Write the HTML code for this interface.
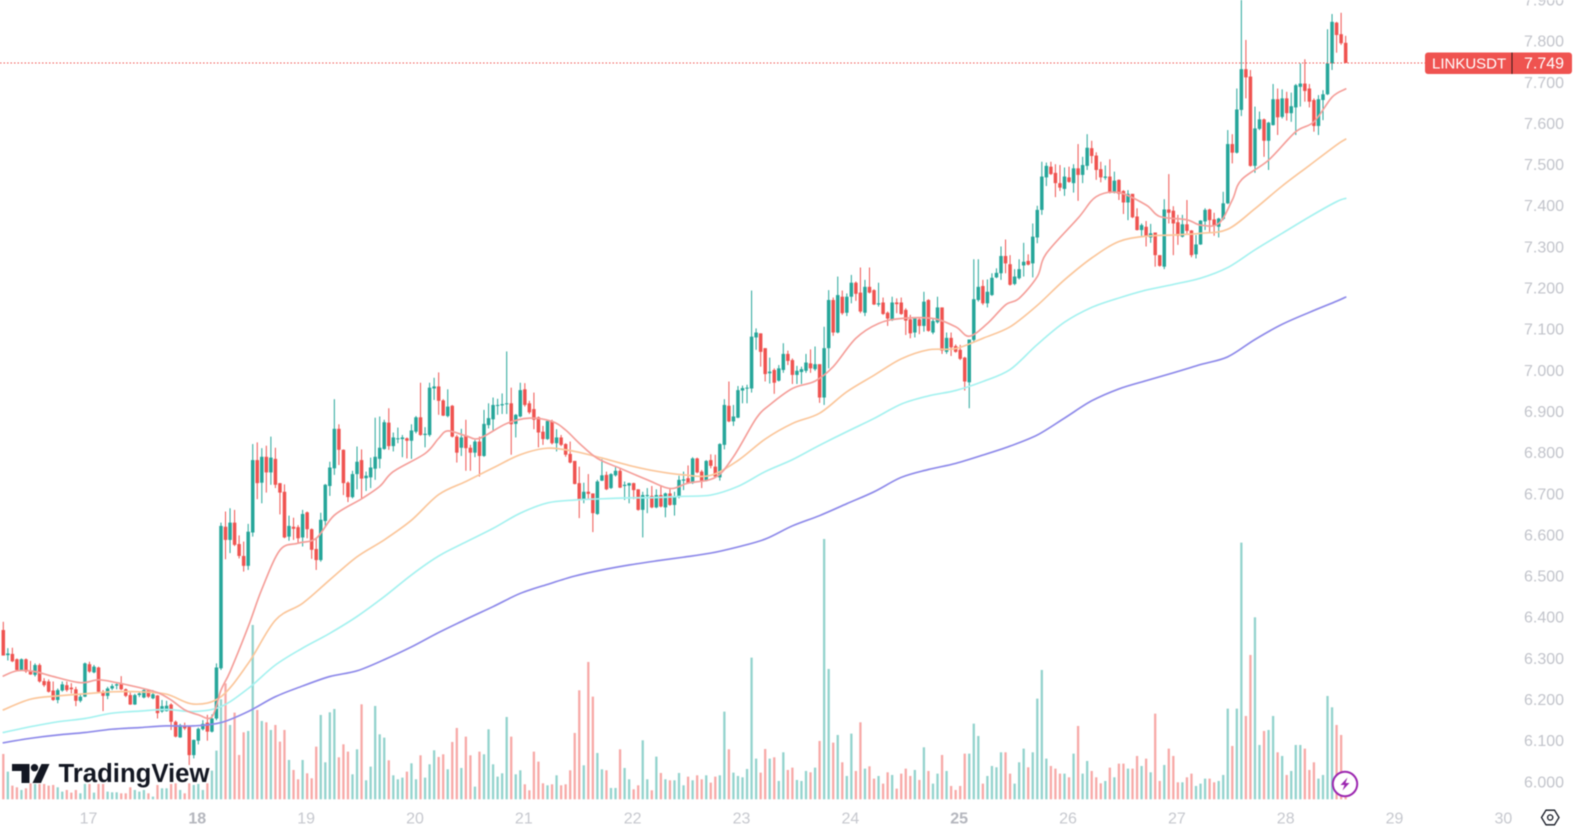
<!DOCTYPE html>
<html lang="en">
<head>
<meta charset="utf-8">
<title>LINKUSDT chart</title>
<style>
html,body{margin:0;padding:0;background:#fff;width:1582px;height:833px;overflow:hidden}
svg{display:block;filter:blur(.45px)}
text{font-family:"Liberation Sans",sans-serif}
</style>
</head>
<body>
<svg id="chart" xmlns="http://www.w3.org/2000/svg" width="1582" height="833" viewBox="0 0 1582 833">
  <rect x="0" y="0" width="1582" height="833" fill="#ffffff"/>
  <g id="volumes"></g>
  <g id="candles"></g>
  <g id="mas"></g>
  <g id="ylabels"></g>
  <g id="xlabels"></g>
  <line id="lastLine" x1="0" x2="1425" stroke="#ef5350" stroke-width="1" stroke-dasharray="1.5 2"/>
  <g id="lastTag">
    <rect id="tagBg" x="1425" width="147" height="21.5" rx="3" fill="#ef5350"/>
    <line id="tagDiv" x1="1512" x2="1512" stroke="#3a1a1a" stroke-width="1"/>
    <text id="tagSym" x="1432" font-size="15" fill="#fff">LINKUSDT</text>
    <text id="tagVal" x="1524" font-size="16" fill="#fff"></text>
  </g>
  <g>
    <path d="M12 764H29.5V783H21.5V771H12Z" fill="#131722"/>
    <circle cx="34.5" cy="767.7" r="3.7" fill="#131722"/>
    <path d="M41.5 764H49.5L41 783H32.5Z" fill="#131722"/>
    <text x="58.5" y="782" font-size="25.5" font-weight="bold" fill="#131722" textLength="151" lengthAdjust="spacingAndGlyphs">TradingView</text>
  </g>
  <g>
    <circle cx="1345" cy="784" r="12.2" fill="#fff" stroke="#9c27b0" stroke-width="2"/>
    <path d="M1347.5 777.5L1340.5 785H1344.5L1342.5 790.5L1349.5 783H1345.5Z" fill="#9c27b0"/>
  </g>
  <g>
    <path d="M1541.5 817.5L1546 810.2H1554.5L1559 817.5L1554.5 824.8H1546Z" fill="none" stroke="#131722" stroke-width="1.3"/>
    <circle cx="1550.2" cy="817.5" r="2.6" fill="none" stroke="#131722" stroke-width="1.3"/>
  </g>
</svg>
<script>
const opens=[6.371,6.310,6.313,6.300,6.274,6.300,6.270,6.262,6.286,6.247,
6.246,6.224,6.201,6.224,6.237,6.231,6.227,6.199,6.209,6.288,
6.268,6.280,6.221,6.211,6.229,6.236,6.242,6.227,6.213,6.190,
6.213,6.207,6.224,6.205,6.212,6.173,6.174,6.190,6.148,6.110,
6.139,6.136,6.067,6.102,6.130,6.146,6.124,6.156,6.278,6.622,
6.590,6.632,6.580,6.551,6.527,6.608,6.784,6.729,6.792,6.754,
6.787,6.728,6.707,6.598,6.622,6.621,6.596,6.657,6.616,6.568,
6.541,6.636,6.721,6.764,6.860,6.809,6.729,6.694,6.750,6.784,
6.740,6.742,6.763,6.787,6.811,6.875,6.818,6.835,6.835,6.837,
6.831,6.853,6.888,6.845,6.845,6.958,6.963,6.929,6.891,6.916,
6.841,6.814,6.844,6.814,6.802,6.829,6.794,6.869,6.883,6.916,
6.917,6.920,6.922,6.872,6.890,6.956,6.922,6.908,6.888,6.853,
6.835,6.879,6.825,6.839,6.823,6.799,6.782,6.728,6.687,6.707,
6.703,6.653,6.734,6.748,6.716,6.747,6.758,6.721,6.722,6.728,
6.713,6.663,6.698,6.697,6.669,6.699,6.669,6.703,6.675,6.694,
6.734,6.740,6.728,6.788,6.756,6.733,6.784,6.768,6.742,6.821,
6.916,6.878,6.887,6.953,6.958,6.958,7.082,7.092,7.056,6.995,
7.003,6.977,7.003,7.042,7.027,6.991,6.998,7.001,7.019,7.005,
7.017,6.936,7.056,7.173,7.094,7.181,7.142,7.181,7.215,7.191,
7.142,7.205,7.197,7.162,7.167,7.142,7.124,7.167,7.167,7.149,
7.126,7.094,7.126,7.110,7.173,7.094,7.119,7.155,7.047,7.081,
7.061,7.052,7.033,6.973,7.076,7.173,7.207,7.165,7.185,7.228,
7.238,7.280,7.260,7.212,7.226,7.257,7.268,7.262,7.325,7.392,
7.471,7.497,7.482,7.457,7.443,7.471,7.457,7.493,7.477,7.499,
7.542,7.524,7.491,7.470,7.473,7.434,7.465,7.438,7.410,7.431,
7.376,7.343,7.351,7.325,7.337,7.282,7.254,7.393,7.390,7.362,
7.327,7.357,7.342,7.284,7.308,7.364,7.393,7.369,7.351,7.370,
7.408,7.552,7.531,7.635,7.734,7.716,7.499,7.589,7.612,7.560,
7.598,7.661,7.618,7.663,7.627,7.641,7.691,7.699,7.687,7.659,
7.596,7.659,7.673,7.748,7.847,7.819,7.798];
const highs=[6.391,6.327,6.328,6.302,6.302,6.302,6.296,6.290,6.290,6.254,
6.251,6.246,6.229,6.246,6.246,6.242,6.233,6.217,6.292,6.294,
6.286,6.282,6.225,6.233,6.240,6.243,6.259,6.229,6.219,6.216,
6.221,6.228,6.227,6.225,6.213,6.201,6.199,6.193,6.151,6.143,
6.146,6.138,6.105,6.134,6.152,6.165,6.166,6.290,6.632,6.659,
6.667,6.663,6.601,6.586,6.629,6.823,6.827,6.813,6.819,6.841,
6.814,6.728,6.725,6.649,6.644,6.626,6.663,6.659,6.618,6.594,
6.656,6.726,6.780,6.932,6.871,6.810,6.732,6.758,6.817,6.810,
6.756,6.790,6.887,6.890,6.882,6.910,6.851,6.863,6.845,6.839,
6.871,6.891,6.972,6.864,6.972,6.984,6.997,6.932,6.956,6.918,
6.845,6.860,6.882,6.821,6.833,6.841,6.906,6.922,6.936,6.933,
6.946,7.048,6.960,6.896,6.972,6.971,6.928,6.948,6.890,6.867,
6.882,6.882,6.859,6.845,6.825,6.829,6.782,6.768,6.729,6.750,
6.703,6.736,6.786,6.756,6.752,6.768,6.764,6.732,6.729,6.729,
6.713,6.707,6.716,6.721,6.713,6.721,6.705,6.714,6.707,6.746,
6.756,6.771,6.791,6.790,6.760,6.784,6.798,6.797,6.825,6.932,
6.975,6.918,6.964,6.965,6.967,7.196,7.104,7.092,7.056,7.033,
7.007,7.015,7.068,7.050,7.031,7.013,7.011,7.042,7.053,7.060,
7.017,7.108,7.197,7.179,7.230,7.196,7.189,7.234,7.218,7.252,
7.222,7.252,7.199,7.215,7.179,7.145,7.181,7.177,7.179,7.153,
7.137,7.130,7.128,7.193,7.175,7.128,7.181,7.155,7.094,7.094,
7.065,7.064,7.035,7.077,7.272,7.272,7.222,7.223,7.238,7.250,
7.303,7.320,7.282,7.248,7.272,7.312,7.284,7.359,7.402,7.509,
7.507,7.509,7.503,7.501,7.495,7.497,7.503,7.552,7.521,7.576,
7.560,7.532,7.509,7.500,7.515,7.485,7.466,7.440,7.440,7.431,
7.396,7.359,7.365,7.358,7.337,7.282,7.418,7.479,7.401,7.380,
7.380,7.416,7.343,7.331,7.367,7.396,7.395,7.385,7.373,7.436,
7.586,7.576,7.687,7.915,7.805,7.732,7.643,7.631,7.614,7.606,
7.698,7.687,7.685,7.679,7.677,7.698,7.748,7.758,7.698,7.663,
7.671,7.683,7.831,7.868,7.849,7.871,7.815];
const lows=[6.309,6.297,6.293,6.272,6.272,6.267,6.262,6.258,6.243,6.233,
6.219,6.199,6.193,6.221,6.221,6.217,6.186,6.195,6.208,6.267,
6.266,6.219,6.174,6.203,6.225,6.227,6.225,6.208,6.189,6.189,
6.208,6.205,6.206,6.203,6.156,6.170,6.173,6.128,6.110,6.109,
6.128,6.043,6.059,6.093,6.127,6.102,6.122,6.152,6.274,6.543,
6.558,6.575,6.545,6.513,6.517,6.598,6.689,6.679,6.705,6.724,
6.716,6.652,6.594,6.588,6.590,6.582,6.574,6.594,6.544,6.517,
6.537,6.621,6.697,6.748,6.772,6.699,6.682,6.691,6.713,6.689,
6.709,6.716,6.736,6.764,6.809,6.809,6.805,6.825,6.791,6.788,
6.787,6.849,6.843,6.815,6.841,6.930,6.894,6.891,6.888,6.839,
6.778,6.794,6.758,6.758,6.791,6.744,6.792,6.861,6.855,6.894,
6.896,6.896,6.797,6.839,6.888,6.914,6.896,6.859,6.815,6.821,
6.833,6.822,6.805,6.818,6.792,6.776,6.725,6.643,6.679,6.687,
6.609,6.651,6.733,6.711,6.714,6.744,6.716,6.687,6.679,6.689,
6.661,6.596,6.655,6.667,6.667,6.669,6.645,6.673,6.649,6.691,
6.711,6.726,6.726,6.752,6.716,6.732,6.764,6.742,6.734,6.810,
6.876,6.867,6.886,6.922,6.922,6.948,7.052,7.011,6.975,6.970,
6.945,6.975,6.996,7.015,6.969,6.969,6.969,6.996,6.996,7.001,
6.923,6.918,7.007,7.086,7.092,7.137,7.134,7.165,7.171,7.141,
7.134,7.189,7.161,7.157,7.137,7.110,7.122,7.141,7.137,7.088,
7.080,7.082,7.090,7.096,7.096,7.090,7.116,7.042,7.042,7.037,
7.045,7.027,6.953,6.910,7.069,7.169,7.161,7.155,7.183,7.226,
7.222,7.238,7.208,7.209,7.223,7.230,7.257,7.228,7.311,7.380,
7.450,7.477,7.423,7.438,7.426,7.458,7.434,7.414,7.457,7.489,
7.505,7.465,7.459,7.465,7.432,7.432,7.416,7.382,7.367,7.372,
7.342,7.327,7.303,7.312,7.254,7.254,7.248,7.359,7.282,7.307,
7.325,7.335,7.277,7.274,7.307,7.343,7.335,7.329,7.325,7.367,
7.406,7.505,7.529,7.620,7.663,7.497,7.482,7.586,7.521,7.489,
7.597,7.574,7.614,7.609,7.606,7.574,7.643,7.655,7.641,7.582,
7.574,7.610,7.671,7.732,7.774,7.793,7.749];
const closes=[6.309,6.314,6.295,6.274,6.300,6.270,6.263,6.286,6.246,6.237,
6.221,6.201,6.225,6.239,6.225,6.227,6.199,6.209,6.290,6.270,
6.282,6.221,6.211,6.229,6.235,6.239,6.227,6.211,6.190,6.213,
6.217,6.225,6.209,6.215,6.169,6.186,6.187,6.148,6.112,6.140,
6.132,6.067,6.104,6.131,6.143,6.124,6.156,6.280,6.624,6.590,
6.632,6.578,6.551,6.527,6.610,6.784,6.728,6.792,6.754,6.790,
6.724,6.705,6.596,6.624,6.617,6.594,6.653,6.616,6.566,6.541,
6.639,6.724,6.766,6.860,6.809,6.728,6.694,6.750,6.780,6.739,
6.746,6.766,6.792,6.814,6.876,6.818,6.839,6.837,6.839,6.831,
6.856,6.888,6.845,6.848,6.960,6.963,6.928,6.892,6.914,6.841,
6.802,6.839,6.813,6.802,6.829,6.794,6.872,6.886,6.918,6.918,
6.920,6.922,6.871,6.894,6.954,6.918,6.900,6.882,6.851,6.835,
6.879,6.825,6.839,6.821,6.797,6.778,6.726,6.687,6.707,6.702,
6.655,6.732,6.747,6.713,6.750,6.758,6.717,6.724,6.728,6.711,
6.663,6.699,6.699,6.669,6.699,6.671,6.703,6.675,6.695,6.736,
6.737,6.728,6.788,6.754,6.732,6.782,6.770,6.744,6.823,6.918,
6.878,6.890,6.954,6.959,6.960,7.084,7.094,7.047,6.993,6.999,
6.972,7.007,7.042,7.025,6.991,7.001,7.005,7.021,7.007,7.017,
6.936,7.056,7.173,7.094,7.185,7.141,7.181,7.215,7.188,7.145,
7.205,7.191,7.162,7.165,7.139,7.128,7.167,7.163,7.139,7.123,
7.092,7.128,7.110,7.169,7.098,7.122,7.155,7.050,7.081,7.058,
7.047,7.030,6.975,7.077,7.175,7.205,7.165,7.193,7.227,7.239,
7.280,7.262,7.210,7.230,7.248,7.266,7.259,7.327,7.392,7.473,
7.499,7.479,7.457,7.446,7.473,7.460,7.493,7.477,7.501,7.543,
7.523,7.489,7.471,7.473,7.434,7.463,7.431,7.410,7.431,7.374,
7.343,7.355,7.327,7.335,7.282,7.256,7.393,7.385,7.359,7.329,
7.357,7.341,7.282,7.308,7.366,7.392,7.367,7.355,7.371,7.408,
7.552,7.531,7.636,7.734,7.714,7.499,7.590,7.612,7.560,7.604,
7.661,7.617,7.663,7.627,7.644,7.695,7.699,7.681,7.655,7.596,
7.661,7.673,7.748,7.849,7.817,7.797,7.749];
const volumes=[136,83,41,36,28,33,48,46,46,46,
41,43,36,23,28,20,28,18,46,46,
20,46,46,23,21,21,18,18,36,28,
23,28,18,8,43,33,33,46,48,28,
18,48,43,46,28,48,86,146,300,348,
223,260,133,201,205,523,268,235,231,208,
223,173,208,118,88,60,118,78,63,158,
253,111,261,271,126,165,143,75,150,285,
57,98,280,195,185,117,72,60,65,83,
108,60,132,65,105,147,127,135,90,172,
214,94,188,132,38,143,135,210,105,68,
78,247,188,75,87,45,27,143,113,48,
42,45,72,42,45,87,199,327,102,412,
308,139,90,87,34,34,150,94,60,30,
42,177,60,27,128,79,60,57,57,79,
42,68,57,72,60,72,50,68,72,263,
150,80,70,66,91,425,122,80,151,122,
126,55,141,88,95,58,55,85,81,95,
175,781,391,170,193,111,70,197,85,231,
92,99,62,70,47,81,73,32,77,92,
70,88,58,156,85,47,77,133,85,40,
28,40,137,137,227,190,47,70,100,96,
141,141,77,47,111,152,96,141,302,388,
122,100,92,77,77,66,137,220,77,115,
85,66,48,55,95,66,107,107,92,92,
130,100,122,81,257,55,103,152,130,51,
51,66,77,40,47,62,62,51,55,73,
272,160,272,770,250,433,546,163,205,208,
250,141,130,73,85,163,163,152,88,111,
62,73,310,276,223,193,45];
const maIndex=[0,6,12,18,24,30,36,42,48,54,60,66,72,78,84,90,96,102,108,114,120,126,132,138,144,150,156,162,168,174,180,186,192,198,204,210,216,222,228,234,240,246,252,258,264,270,276,282,288,294,296];
const maPurple=[6.097,6.108,6.116,6.122,6.130,6.134,6.138,6.138,6.146,6.173,6.209,6.235,6.258,6.272,6.299,6.330,6.365,6.397,6.428,6.460,6.482,6.502,6.517,6.529,6.539,6.548,6.558,6.573,6.592,6.624,6.649,6.678,6.707,6.742,6.761,6.776,6.796,6.818,6.845,6.886,6.928,6.957,6.977,6.996,7.016,7.035,7.077,7.114,7.143,7.170,7.180];
const maCyan=[6.122,6.136,6.148,6.156,6.169,6.174,6.178,6.173,6.185,6.229,6.286,6.327,6.363,6.404,6.452,6.505,6.551,6.585,6.618,6.655,6.680,6.687,6.690,6.692,6.693,6.696,6.699,6.720,6.756,6.785,6.820,6.853,6.885,6.920,6.940,6.953,6.975,7.004,7.065,7.119,7.155,7.178,7.197,7.211,7.226,7.252,7.295,7.335,7.375,7.412,7.420];
const maOrange=[6.177,6.203,6.211,6.216,6.221,6.221,6.215,6.191,6.209,6.290,6.395,6.436,6.493,6.549,6.590,6.638,6.700,6.732,6.765,6.797,6.813,6.805,6.789,6.771,6.757,6.748,6.747,6.783,6.835,6.873,6.898,6.950,6.990,7.030,7.052,7.055,7.080,7.108,7.160,7.222,7.275,7.315,7.328,7.331,7.335,7.345,7.395,7.450,7.500,7.550,7.564];
const maRedIndex=[0,3,7,11,17,21,25,30,34,37,40,43,46,48,50,54,57,61,65,69,73,79,83,86,93,96,98,102,105,111,116,121,124,127,131,136,142,147,151,157,161,166,169,174,179,183,188,193,198,205,210,213,217,221,224,228,230,237,241,246,252,255,261,264,268,271,273,279,285,289,293,296];
const maRed=[6.259,6.272,6.270,6.258,6.243,6.250,6.243,6.231,6.219,6.201,6.177,6.165,6.160,6.225,6.270,6.379,6.470,6.565,6.582,6.594,6.650,6.690,6.720,6.756,6.800,6.837,6.855,6.843,6.837,6.873,6.886,6.878,6.857,6.825,6.788,6.764,6.736,6.715,6.728,6.742,6.792,6.885,6.918,6.958,6.976,7.011,7.080,7.116,7.128,7.128,7.108,7.085,7.116,7.161,7.177,7.230,7.286,7.372,7.424,7.434,7.404,7.376,7.368,7.355,7.359,7.416,7.465,7.513,7.582,7.606,7.666,7.686];
const priceTicks=[7.9,7.8,7.7,7.6,7.5,7.4,7.3,7.2,7.1,7.0,6.9,6.8,6.7,6.6,6.5,6.4,6.3,6.2,6.1,6.0];
const dayLabels=[17,18,19,20,21,22,23,24,25,26,27,28,29,30];
const boldDays=[18,25];

const SVGNS='http://www.w3.org/2000/svg';
function xAxis(i){return 3.3+4.535*i;}
function yAxis(p){return 42+(7.8-p)*411.5;}
function volAxis(v){return 799.3-v/3;}
function make(tag,parent){const el=document.createElementNS(SVGNS,tag);parent.appendChild(el);return el;}

const UP='#26a69a',DOWN='#ef5350',UPV='#93d3cd',DOWNV='#f7a9a7';
const volG=document.getElementById('volumes');
const canG=document.getElementById('candles');
closes.forEach(function(c,i){
  const up=c>=opens[i];
  const bar=make('rect',volG);
  
  
  bar.setAttribute('x',xAxis(i)-1.15);
  bar.setAttribute('width',2.3);
  bar.setAttribute('y',volAxis(volumes[i]));
  bar.setAttribute('height',volAxis(0)-volAxis(volumes[i]));
  bar.setAttribute('fill',up?UPV:DOWNV);

  const g=make('g',canG);
  
  
  const wick=make('line',g);
  
  
  wick.setAttribute('x1',xAxis(i));
  wick.setAttribute('x2',xAxis(i));
  wick.setAttribute('y1',yAxis(highs[i]));
  wick.setAttribute('y2',yAxis(lows[i]));
  wick.setAttribute('stroke',up?UP:DOWN);
  wick.setAttribute('stroke-width',1);
  const body=make('rect',g);
  
  
  const top=yAxis(Math.max(opens[i],c));
  const bot=yAxis(Math.min(opens[i],c));
  body.setAttribute('x',xAxis(i)-1.75);
  body.setAttribute('width',3.5);
  body.setAttribute('y',top);
  body.setAttribute('height',Math.max(1,bot-top));
  body.setAttribute('fill',up?UP:DOWN);
});

const maG=document.getElementById('mas');
function smoothPath(idx,vals){
  const pts=idx.map(function(k,j){return [xAxis(k),yAxis(vals[j])];});
  let d='M'+pts[0][0].toFixed(1)+' '+pts[0][1].toFixed(1);
  for(let j=0;j<pts.length-1;j++){
    const p0=pts[Math.max(0,j-1)],p1=pts[j],p2=pts[j+1],p3=pts[Math.min(pts.length-1,j+2)];
    const c1x=p1[0]+(p2[0]-p0[0])/6,c1y=p1[1]+(p2[1]-p0[1])/6;
    const c2x=p2[0]-(p3[0]-p1[0])/6,c2y=p2[1]-(p3[1]-p1[1])/6;
    d+='C'+c1x.toFixed(1)+' '+c1y.toFixed(1)+' '+c2x.toFixed(1)+' '+c2y.toFixed(1)+' '+p2[0].toFixed(1)+' '+p2[1].toFixed(1);
  }
  return d;
}
function drawMA(name,idx,vals,color){
  const pl=make('path',maG);
  
  
  pl.setAttribute('d',smoothPath(idx,vals));
  pl.setAttribute('fill','none');
  pl.setAttribute('stroke',color);
  pl.setAttribute('stroke-width',1.7);
  pl.setAttribute('stroke-linejoin','round');
  pl.setAttribute('stroke-linecap','round');
}
drawMA('ma-long-purple',maIndex,maPurple,'#8f8bea');
drawMA('ma-slow-cyan',maIndex,maCyan,'#a6f2f0');
drawMA('ma-mid-orange',maIndex,maOrange,'#fbc79c');
drawMA('ma-fast-red',maRedIndex,maRed,'#f5a09b');

const yG=document.getElementById('ylabels');
priceTicks.forEach(function(p){
  const t=make('text',yG);
  
  
  t.setAttribute('x',1544);
  t.setAttribute('y',yAxis(p)+4.6);
  t.setAttribute('text-anchor','middle');
  t.setAttribute('font-size',16);
  t.setAttribute('fill','#c2c4cb');
  t.textContent=p.toFixed(3);
});

const xG=document.getElementById('xlabels');
dayLabels.forEach(function(d,k){
  const t=make('text',xG);
  
  
  t.setAttribute('x',xAxis(19+24*k)-1);
  t.setAttribute('y',823.5);
  t.setAttribute('text-anchor','middle');
  t.setAttribute('font-size',16);
  const bold=boldDays.indexOf(d)>=0;
  t.setAttribute('font-weight',bold?'bold':'normal');
  t.setAttribute('fill',bold?'#b4b6bd':'#c6c8ce');
  t.textContent=d;
});

const last=closes[closes.length-1];
const ly=yAxis(last);
const line=document.getElementById('lastLine');
line.setAttribute('y1',ly);
line.setAttribute('y2',ly);
document.getElementById('tagBg').setAttribute('y',ly-10.5);
const dv=document.getElementById('tagDiv');
dv.setAttribute('y1',ly-10.5);
dv.setAttribute('y2',ly+11);
document.getElementById('tagSym').setAttribute('y',ly+5.4);
const tv=document.getElementById('tagVal');
tv.setAttribute('y',ly+5.6);
tv.textContent=last.toFixed(3);
</script>
</body>
</html>
